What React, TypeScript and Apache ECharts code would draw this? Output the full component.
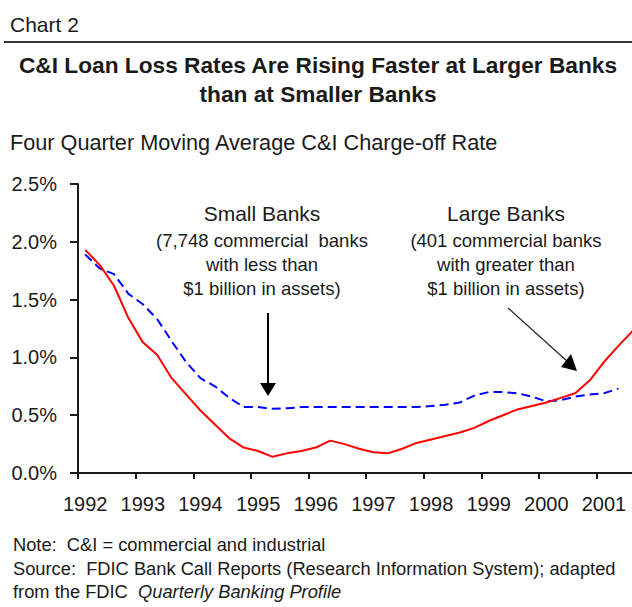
import React, { useEffect, useRef } from "react";
import * as echarts from "echarts";

const quarters: string[] = [
  "1992 Q1", "1992 Q2", "1992 Q3", "1992 Q4",
  "1993 Q1", "1993 Q2", "1993 Q3", "1993 Q4",
  "1994 Q1", "1994 Q2", "1994 Q3", "1994 Q4",
  "1995 Q1", "1995 Q2", "1995 Q3", "1995 Q4",
  "1996 Q1", "1996 Q2", "1996 Q3", "1996 Q4",
  "1997 Q1", "1997 Q2", "1997 Q3", "1997 Q4",
  "1998 Q1", "1998 Q2", "1998 Q3", "1998 Q4",
  "1999 Q1", "1999 Q2", "1999 Q3", "1999 Q4",
  "2000 Q1", "2000 Q2", "2000 Q3", "2000 Q4",
  "2001 Q1", "2001 Q2", "2001 Q3",
];

// Large banks (solid red), four-quarter moving average C&I charge-off rate, %
const largeBanks: number[] = [
  1.93, 1.80, 1.62, 1.34, 1.13, 1.02, 0.82, 0.68,
  0.54, 0.42, 0.30, 0.22, 0.19, 0.14, 0.17, 0.19,
  0.22, 0.28, 0.25, 0.21, 0.18, 0.17, 0.21, 0.26,
  0.29, 0.32, 0.35, 0.39, 0.45, 0.50, 0.55, 0.58,
  0.61, 0.65, 0.69, 0.80, 0.96, 1.10, 1.23,
];

// Small banks (dashed blue)
const smallBanks: (number | null)[] = [
  1.89, 1.77, 1.72, 1.55, 1.46, 1.33, 1.14, 0.96,
  0.82, 0.75, 0.65, 0.57, 0.57, 0.555, 0.56, 0.57,
  0.57, 0.57, 0.57, 0.57, 0.57, 0.57, 0.57, 0.57,
  0.58, 0.59, 0.61, 0.67, 0.70, 0.70, 0.69, 0.66,
  0.62, 0.63, 0.66, 0.68, 0.69, 0.73, null,
];

const yTicks = { min: 0, max: 2.5, interval: 0.5 };

const chartLabel = "Chart 2";
const titleLines = [
  "C&I Loan Loss Rates Are Rising Faster at Larger Banks",
  "than at Smaller Banks",
];
const subtitle = "Four Quarter Moving Average C&I Charge-off Rate";
const smallBanksNote = [
  "Small Banks",
  "(7,748 commercial  banks",
  "with less than",
  "$1 billion in assets)",
];
const largeBanksNote = [
  "Large Banks",
  "(401 commercial banks",
  "with greater than",
  "$1 billion in assets)",
];
const footNote = "Note:  C&I = commercial and industrial";
const footSource =
  "Source:  FDIC Bank Call Reports (Research Information System); adapted";
const footFrom = "from the FDIC";
const footPub = "Quarterly Banking Profile";

const FONT = '"Liberation Sans", Arial, sans-serif';
const INK = "#1a1a1a";

function txt(
  text: string,
  x: number,
  y: number,
  size: number,
  align: string = "left",
  weight: string = "normal",
  style: string = "normal"
) {
  return {
    type: "text",
    x,
    y,
    silent: true,
    style: {
      text,
      fill: INK,
      fontFamily: FONT,
      fontSize: size,
      fontWeight: weight,
      fontStyle: style,
      align,
      verticalAlign: "middle",
    },
  };
}

export default function App() {
  const ref = useRef<HTMLDivElement>(null);

  useEffect(() => {
    document.body.style.margin = "0";
    if (!ref.current) return;
    const chart = echarts.init(ref.current, undefined, { renderer: "svg" });

    const noteLines = (lines: string[], cx: number) => [
      txt(lines[0], cx, 213, 21, "center"),
      txt(lines[1], cx, 240, 18.5, "center"),
      txt(lines[2], cx, 264, 18.5, "center"),
      txt(lines[3], cx, 288, 18.5, "center"),
    ];

    chart.setOption({
      animation: false,
      backgroundColor: "#ffffff",
      grid: { left: 78, right: 0, top: 184, bottom: 134, containLabel: false },
      xAxis: {
        type: "category",
        data: quarters,
        boundaryGap: true,
        axisLine: { show: true, lineStyle: { color: INK, width: 2 } },
        axisTick: {
          show: true,
          interval: 3,
          length: 6,
          lineStyle: { color: INK, width: 2 },
        },
        axisLabel: {
          interval: 3,
          margin: 21,
          color: INK,
          fontFamily: FONT,
          fontSize: 20,
          formatter: (v: string) => v.slice(0, 4),
        },
        splitLine: { show: false },
      },
      yAxis: {
        type: "value",
        min: yTicks.min,
        max: yTicks.max,
        interval: yTicks.interval,
        axisLine: { show: true, lineStyle: { color: INK, width: 2 } },
        axisTick: { show: true, length: 8, lineStyle: { color: INK, width: 2 } },
        axisLabel: {
          margin: 21,
          color: INK,
          fontFamily: FONT,
          fontSize: 20,
          formatter: (v: number) => v.toFixed(1) + "%",
        },
        splitLine: { show: false },
      },
      series: [
        {
          name: "Small Banks",
          type: "line",
          data: smallBanks,
          symbol: "none",
          lineStyle: { color: "#0000ff", width: 2, type: [9, 5] },
          z: 2,
        },
        {
          name: "Large Banks",
          type: "line",
          data: largeBanks,
          symbol: "none",
          lineStyle: { color: "#ff0000", width: 2 },
          z: 3,
        },
      ],
      graphic: [
        txt(chartLabel, 10, 24, 21),
        {
          type: "line",
          silent: true,
          shape: { x1: 4, y1: 42, x2: 640, y2: 42 },
          style: { stroke: "#333333", lineWidth: 2 },
        },
        txt(titleLines[0], 318, 65, 22.7, "center", "bold"),
        txt(titleLines[1], 318, 94, 22.7, "center", "bold"),
        txt(subtitle, 10, 142, 21.7),
        ...noteLines(smallBanksNote, 262),
        ...noteLines(largeBanksNote, 506),
        {
          type: "line",
          silent: true,
          shape: { x1: 268, y1: 313, x2: 268, y2: 384 },
          style: { stroke: "#000000", lineWidth: 2 },
        },
        {
          type: "polygon",
          silent: true,
          shape: { points: [[260, 383], [276, 383], [268, 396]] },
          style: { fill: "#000000" },
        },
        {
          type: "line",
          silent: true,
          shape: { x1: 508, y1: 308, x2: 568, y2: 362 },
          style: { stroke: "#222222", lineWidth: 1.2 },
        },
        {
          type: "polygon",
          silent: true,
          shape: { points: [[577, 371], [561, 367], [571, 354]] },
          style: { fill: "#000000" },
        },
        txt(footNote, 13, 544, 18.3),
        txt(footSource, 13, 568, 18.3),
        txt(footFrom, 13, 591.5, 18.3),
        txt(footPub, 138, 591.5, 18.3, "left", "normal", "italic"),
      ],
    });

    return () => {
      chart.dispose();
    };
  }, []);

  return (
    <div style={{ width: 632, height: 607, overflow: "hidden", position: "relative", background: "#fff" }}>
      <div ref={ref} style={{ width: 640, height: 607 }} />
    </div>
  );
}
